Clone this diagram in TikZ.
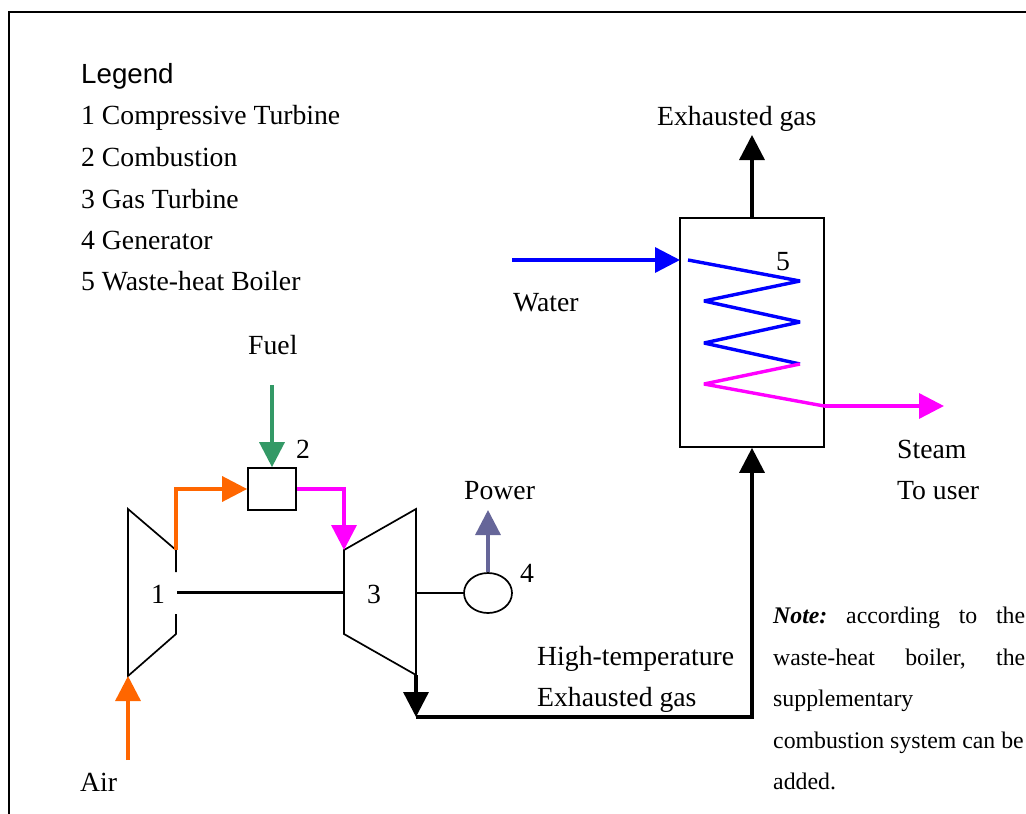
\documentclass[tikz,border=0pt]{standalone}
\usepackage{fontspec}
\setmainfont{Liberation Serif}
\newfontfamily\legendfont{Liberation Sans}
\usetikzlibrary{arrows.meta,shapes.geometric}
\definecolor{orangeflow}{HTML}{FF6600}
\definecolor{magflow}{HTML}{FF00FF}
\definecolor{blueflow}{HTML}{0000FF}
\definecolor{greenflow}{HTML}{339966}
\definecolor{slateflow}{HTML}{666699}
\tikzset{
  x=1pt,y=-1pt,
  lbl/.style={inner sep=0pt,anchor=base west,font=\fontsize{27.7}{32}\selectfont},
  num/.style={inner sep=0pt,anchor=base,font=\fontsize{27.7}{32}\selectfont},
  notetext/.style={inner sep=0pt,anchor=base west,font=\fontsize{23.8}{28}\selectfont\frenchspacing},
  outline/.style={draw=black,line width=1.7pt,line join=miter},
  flow/.style={line width=3.4pt,-{Triangle[length=25pt,width=25pt]},line join=miter},
  plainflow/.style={line width=3.4pt,line join=bevel},
  device/.style={draw=black,line width=1.7pt,inner sep=0pt,minimum width=48pt,minimum height=42pt},
}
\begin{document}
\begin{tikzpicture}
\useasboundingbox (0,0) rectangle (1026,814);
% frame
\coordinate (frTR) at (1026,12);
\coordinate (frTL) at (9,12);
\coordinate (frBL) at (9,814);
\draw[black,line width=2pt] (frTR) -- (frTL) -- (frBL);

% legend
\node[lbl,font=\fontsize{27.7}{32}\selectfont\legendfont] (lg0) at (81,83) {Legend};
\node[lbl] (lg1) at (81,124) {1 Compressive Turbine};
\node[lbl] (lg2) at (81,166) {2 Combustion};
\node[lbl] (lg3) at (81,208) {3 Gas Turbine};
\node[lbl] (lg4) at (81,249) {4 Generator};
\node[lbl] (lg5) at (81,290) {5 Waste-heat Boiler};

% machinery points
\coordinate (c1a) at (128,509);
\coordinate (c1b) at (176,550);
\coordinate (c1c) at (176,572);
\coordinate (c1d) at (176,614);
\coordinate (c1e) at (176,634);
\coordinate (c1f) at (128,676);
\coordinate (c1s) at (177,592.5);
\coordinate (t3a) at (344,550);
\coordinate (t3b) at (416,509);
\coordinate (t3c) at (416,675);
\coordinate (t3d) at (344,634);
\coordinate (t3s) at (344,592.5);
\coordinate (t3g) at (416,593);

% compressor and turbine
\draw[outline] (c1c) -- (c1b) -- (c1a) -- (c1f) -- (c1e) -- (c1d);
\draw[outline] (t3a) -- (t3b) -- (t3c) -- (t3d) -- cycle;
\draw[black,line width=2.4pt] (c1s) -- (t3s);
\node[device] (comb) at (272,489) {};
\node[draw=black,line width=1.7pt,ellipse,minimum width=48pt,minimum height=40pt,inner sep=0pt] (gen) at (488,593) {};
\draw[black,line width=1.2pt] (t3g) -- (gen);

% numbers
\node[num] (n1) at (158,603) {1};
\node[num] (n2) at (303,458) {2};
\node[num] (n3) at (374,603) {3};
\node[num] (n4) at (527,582) {4};
\node[num] (n5) at (783,270) {5};

% fuel, air, flows
\node[lbl] (fuel) at (248,354) {Fuel};
\node[lbl] (air) at (80,791) {Air};
\node[lbl] (power) at (464,499) {Power};
\coordinate (fuelS) at (272,385);
\draw[flow,greenflow] (fuelS) -- (comb.north);
\coordinate (airS) at (128,760);
\draw[flow,orangeflow] (airS) -- (c1f);
\coordinate (o1) at (176,489);
\draw[flow,orangeflow] (c1b) -- (o1) -- (comb.west);
\coordinate (m1) at (344,489);
\draw[flow,magflow] (comb.east) -- (m1) -- (t3a);
\coordinate (pwT) at (488,510);
\draw[flow,slateflow] (gen.north) -- (pwT);

% boiler
\node[draw=black,line width=1.7pt,inner sep=0pt,minimum width=144pt,minimum height=229pt] (boiler) at (752,332.5) {};
\coordinate (exT) at (752,135);
\draw[flow,black] (boiler.north) -- (exT);
\node[lbl] (exh) at (657,125) {Exhausted gas};
\coordinate (wS) at (512,260);
\coordinate (wE) at (680,260);
\draw[flow,blueflow] (wS) -- (wE);
\node[lbl] (water) at (513,311) {Water};

% coil
\coordinate (k0) at (688,260);
\coordinate (k1) at (800,281);
\coordinate (k2) at (704,301);
\coordinate (k3) at (800,322);
\coordinate (k4) at (704,343);
\coordinate (k5) at (800,364);
\coordinate (k6) at (704,384);
\coordinate (k7) at (824,406);
\coordinate (k8) at (944,406);
\draw[plainflow,blueflow] (k0) -- (k1) -- (k2) -- (k3) -- (k4) -- (k5);
\draw[plainflow,magflow] (k5) -- (k6) -- (k7);
\draw[flow,magflow] (k7) -- (k8);
\node[lbl] (steam) at (897,458) {Steam};
\node[lbl] (touser) at (897,499) {To user};

% exhaust
\coordinate (x1) at (416,717);
\coordinate (x2) at (752,717);
\draw[flow,black] (t3c) -- (x1);
\draw[flow,black] (x1) -- (x2) -- (boiler.south);
\node[lbl] (hot1) at (537,665) {High-temperature};
\node[lbl] (hot2) at (537,706) {Exhausted gas};

% note
\node[notetext] (note1) at (773,623.5) {\makebox[252pt][s]{\textbf{\textit{Note:}} according to the}};
\node[notetext] (note2) at (773,665) {\makebox[252pt][s]{waste-heat boiler, the}};
\node[notetext] (note3) at (773,706.5) {supplementary};
\node[notetext] (note4) at (773,748) {combustion system can be};
\node[notetext] (note5) at (773,789.5) {added.};
\end{tikzpicture}
\end{document}
